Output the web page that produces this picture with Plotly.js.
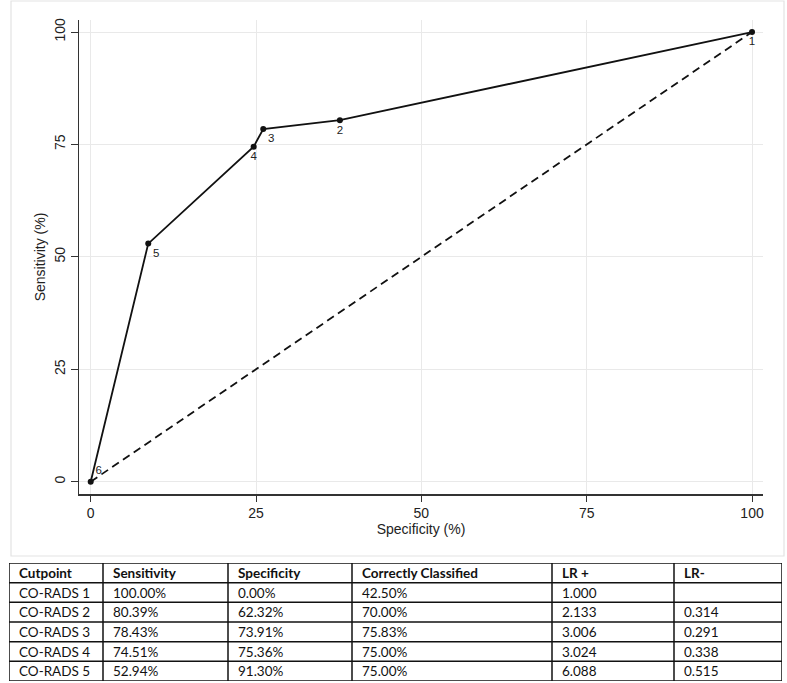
<!DOCTYPE html>
<html>
<head>
<meta charset="utf-8">
<script src="https://cdn.plot.ly/plotly-3.0.1.min.js"></script>
<style>
  html, body { margin: 0; padding: 0; background: #fff; }
  #roc { width: 787px; height: 683px; }
</style>
</head>
<body>
<div id="roc"></div>
<script>
// ROC curve points (cutpoint number, sensitivity %, specificity %)
const rocLabels = ["1", "2", "3", "4", "5", "6"];
const rocSens = [100, 80.39, 78.43, 74.51, 52.94, 0];
const rocSpec = [0, 62.32, 73.91, 75.36, 91.3, 100];
const rocTextPos = ["bottom center", "bottom center", "bottom right", "bottom center", "bottom right", "top right"];

// chance line
const refX = [0, 100];
const refY = [0, 100];

const axisTicks = [0, 25, 50, 75, 100];

// table under the chart
const tableHeader = ["Cutpoint", "Sensitivity", "Specificity", "Correctly Classified", "LR +", "LR-"];
const cutpoints = ["CO-RADS 1", "CO-RADS 2", "CO-RADS 3", "CO-RADS 4", "CO-RADS 5"];
const sensCol = ["100.00%", "80.39%", "78.43%", "74.51%", "52.94%"];
const specCol = ["0.00%", "62.32%", "73.91%", "75.36%", "91.30%"];
const correctCol = ["42.50%", "70.00%", "75.83%", "75.00%", "75.00%"];
const lrPos = ["1.000", "2.133", "3.006", "3.024", "6.088"];
const lrNeg = ["", "0.314", "0.291", "0.338", "0.515"];

const W = 787, H = 683;
const px = v => v / W;
const py = v => 1 - v / H;

// x axis shows 100 - specificity
let xVals = rocSpec.map(s => 100 - s);

let curve = {
  type: "scatter",
  x: xVals,
  y: rocSens,
  mode: "lines+markers+text",
  text: rocLabels,
  textposition: rocTextPos,
  textfont: { family: "Liberation Sans, Arial, sans-serif", size: 11.5, color: "#222" },
  line: { color: "#111", width: 1.8 },
  marker: { color: "#111", size: 6 },
  hoverinfo: "x+y",
  showlegend: false,
};

let chance = {
  type: "scatter",
  x: refX,
  y: refY,
  mode: "lines",
  line: { color: "#111", width: 1.8, dash: "8px,5px" },
  hoverinfo: "skip",
  showlegend: false,
};

// table grid, drawn on its own hidden axes (x in px of column width, y in rows)
const colWidths = [94, 125, 124, 200, 122, 108];
let colLeft = [0];
colWidths.forEach((w, i) => colLeft.push(colLeft[i] + w));
const tableW = colLeft[colLeft.length - 1];
const columns = [cutpoints, sensCol, specCol, correctCol, lrPos, lrNeg];
const nRows = cutpoints.length + 1;

let tableFont = { family: "Lato, Carlito, sans-serif", size: 13.5, color: "#111" };
let annotations = [];
let shapes = [];

tableHeader.forEach((h, c) => {
  annotations.push({
    xref: "x2", yref: "y2", x: colLeft[c] + 8, y: 0.5,
    text: "<b>" + h + "</b>", showarrow: false,
    xanchor: "left", yanchor: "middle", font: tableFont,
  });
});
columns.forEach((col, c) => {
  col.forEach((v, r) => {
    annotations.push({
      xref: "x2", yref: "y2", x: colLeft[c] + 8, y: r + 1.5,
      text: v, showarrow: false,
      xanchor: "left", yanchor: "middle", font: tableFont,
    });
  });
});
for (let r = 0; r <= nRows; r++) {
  shapes.push({
    type: "line", xref: "x2", yref: "y2",
    x0: 0, x1: tableW, y0: r, y1: r,
    line: { color: "#111", width: 1.5 },
  });
}
colLeft.forEach(x => {
  shapes.push({
    type: "line", xref: "x2", yref: "y2",
    x0: x, x1: x, y0: 0, y1: nRows,
    line: { color: "#111", width: 1.5 },
  });
});

// light frame around the graph region
shapes.push({
  type: "rect", xref: "paper", yref: "paper",
  x0: px(11), x1: px(784), y0: py(556), y1: py(1),
  line: { color: "#e3e3e3", width: 1.2 },
  layer: "below",
});

let axisFont = { family: "Liberation Sans, Arial, sans-serif", size: 14, color: "#222" };

let layout = {
  width: W,
  height: H,
  margin: { l: 0, r: 0, t: 0, b: 0 },
  paper_bgcolor: "#fff",
  plot_bgcolor: "#fff",
  showlegend: false,
  xaxis: {
    domain: [px(79), px(763)],
    range: [-1.77, 101.66],
    tickvals: axisTicks,
    showgrid: true,
    gridcolor: "#e9e9e9",
    zeroline: false,
    showline: true,
    linecolor: "#333",
    linewidth: 1.5,
    ticks: "outside",
    ticklen: 6,
    tickcolor: "#333",
    tickfont: axisFont,
    title: { text: "Specificity (%)", font: axisFont, standoff: 4 },
  },
  yaxis: {
    domain: [py(494), py(20)],
    range: [-2.74, 102.67],
    tickvals: axisTicks,
    tickangle: -90,
    showgrid: true,
    gridcolor: "#e9e9e9",
    zeroline: false,
    showline: true,
    linecolor: "#333",
    linewidth: 1.5,
    ticks: "outside",
    ticklen: 7,
    tickcolor: "#333",
    tickfont: axisFont,
    title: { text: "Sensitivity (%)", font: axisFont, standoff: 3 },
  },
  xaxis2: {
    domain: [px(9), px(782)],
    range: [0, tableW],
    anchor: "y2",
    visible: false,
    fixedrange: true,
  },
  yaxis2: {
    domain: [py(681), py(563)],
    range: [nRows, 0],
    anchor: "x2",
    visible: false,
    fixedrange: true,
  },
  annotations: annotations,
  shapes: shapes,
};

Plotly.newPlot("roc", [chance, curve], layout, { displayModeBar: false, staticPlot: true });
</script>
</body>
</html>
